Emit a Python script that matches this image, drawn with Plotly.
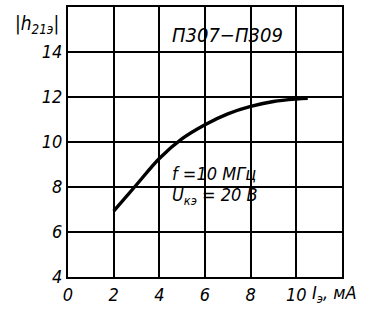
import plotly.graph_objects as go

# data
current_ma = [2, 3, 4, 5, 6, 7, 8, 9, 10, 10.5]
h21e = [6.93, 8.1, 9.27, 10.15, 10.77, 11.25, 11.58, 11.8, 11.91, 11.94]

x_ticks = [0, 2, 4, 6, 8, 10]
y_ticks = [4, 6, 8, 10, 12, 14]

FONT = "Liberation Sans Narrow, DejaVu Sans Condensed, Arial Narrow, sans-serif"

fig = go.Figure()
fig.add_trace(go.Scatter(
    x=current_ma, y=h21e, mode="lines",
    line=dict(color="black", width=3.4, shape="spline"),
    showlegend=False, hoverinfo="skip",
))

axis_common = dict(
    showgrid=True, gridcolor="black", gridwidth=1.6,
    showline=True, linecolor="black", linewidth=2.2, mirror=True,
    zeroline=False, ticks="",
    tickfont=dict(family=FONT, size=18, color="black", style="italic"),
)

fig.update_xaxes(range=[0, 12], tickvals=x_ticks, ticktext=[str(v) for v in x_ticks], **axis_common)
fig.update_yaxes(range=[4, 16], tickvals=y_ticks, ticktext=[str(v) for v in y_ticks], **axis_common)

ann_font = dict(family=FONT, size=18, color="black", style="italic")
fig.add_annotation(x=7.0, y=14.75, xref="x", yref="y", text="П307−П309",
                   showarrow=False, font=dict(family=FONT, size=20, color="black", style="italic"))
fig.add_annotation(x=4.45, y=8.6, xref="x", yref="y", text="f =10 МГц",
                   showarrow=False, font=ann_font, xanchor="left")
fig.add_annotation(x=4.45, y=7.6, xref="x", yref="y", text="U<sub>кэ</sub> = 20 В",
                   showarrow=False, font=ann_font, xanchor="left")
fig.add_annotation(x=10.6, y=0, xref="x", yref="paper", yshift=-17,
                   text="I<sub>э</sub>, мА", showarrow=False, font=ann_font,
                   xanchor="left", yanchor="middle")
fig.add_annotation(x=0, y=1, xref="paper", yref="paper", xshift=-7, yshift=-17,
                   text="|h<sub>21э</sub>|", showarrow=False,
                   font=dict(family=FONT, size=19, color="black", style="italic"),
                   xanchor="right", yanchor="middle")

fig.update_layout(
    width=374, height=311,
    margin=dict(l=68, r=32, t=5, b=34),
    paper_bgcolor="white", plot_bgcolor="white",
)

fig.write_html("out.html", config={"displayModeBar": False},
               post_script="document.body.style.margin='0';")
